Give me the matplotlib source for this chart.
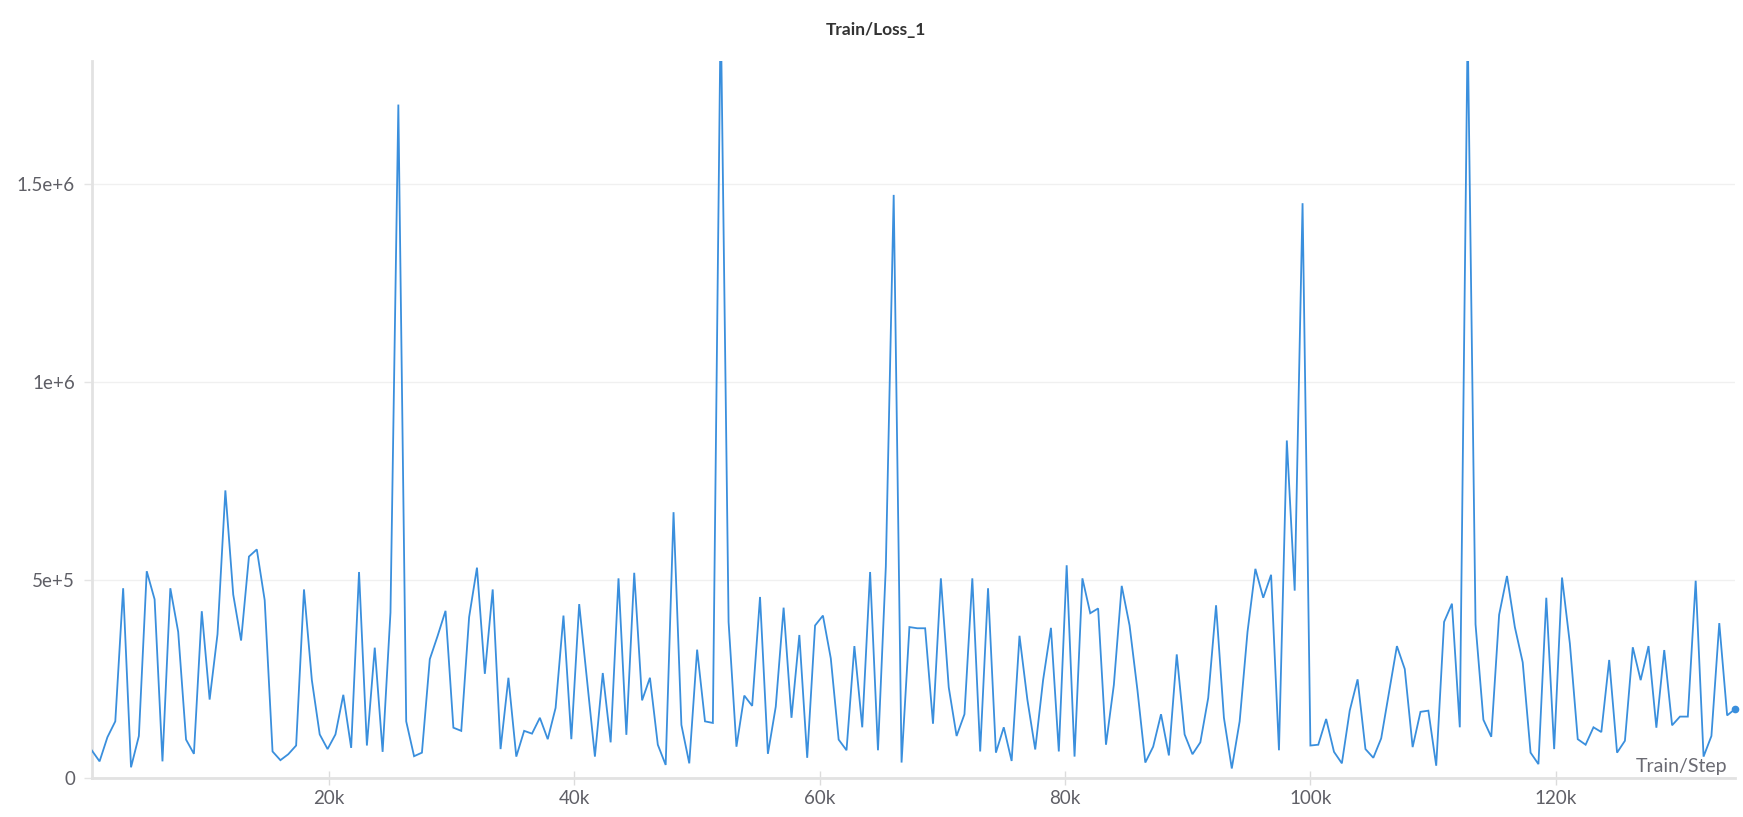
import numpy as np
import matplotlib
matplotlib.use("Agg")
import matplotlib.pyplot as plt

# ---- data (loss values in units of 1e5) ----
step_interval = 641
loss_e5 = [
    0.70, 0.42, 1.03, 1.43, 4.79, 0.27, 1.06, 5.22, 4.51, 0.42, 4.79, 3.69, 0.97, 0.61, 4.21, 1.98, 3.63, 7.26, 4.63, 3.47, 5.59, 5.77, 4.49, 0.67, 0.45, 0.60, 0.82,
    4.76, 2.47, 1.10, 0.73, 1.10, 2.10, 0.76, 5.20, 0.82, 3.29, 0.66, 4.18, 17.0, 1.43, 0.55, 0.64, 3.00, 3.59, 4.22, 1.27, 1.19, 4.06, 5.31, 2.63, 4.76, 0.73, 2.53,
    0.54, 1.19, 1.12, 1.52, 0.98, 1.77, 4.10, 0.98, 4.39, 2.47, 0.54, 2.65, 0.90, 5.04, 1.09, 5.18, 1.96, 2.53, 0.84, 0.33, 6.71, 1.34, 0.37, 3.24, 1.43, 1.39, 19.5,
    3.94, 0.79, 2.08, 1.82, 4.57, 0.61, 1.80, 4.30, 1.52, 3.61, 0.51, 3.85, 4.10, 3.02, 0.97, 0.70, 3.33, 1.28, 5.20, 0.70, 5.34, 14.72, 0.39, 3.81, 3.78, 3.78,
    1.37, 5.04, 2.29, 1.06, 1.61, 5.04, 0.67, 4.79, 0.64, 1.28, 0.43, 3.59, 1.98, 0.72, 2.47, 3.79, 0.67, 5.37, 0.54, 5.04, 4.16, 4.28, 0.84, 2.35, 4.85, 3.85, 2.22,
    0.39, 0.79, 1.61, 0.57, 3.12, 1.10, 0.60, 0.90, 2.02, 4.36, 1.52, 0.24, 1.43, 3.69, 5.28, 4.55, 5.13, 0.70, 8.52, 4.73, 14.51, 0.82, 0.84, 1.49, 0.66, 0.37, 1.70,
    2.49, 0.73, 0.51, 1.00, 2.16, 3.33, 2.75, 0.78, 1.67, 1.70, 0.31, 3.94, 4.40, 1.28, 19.0, 3.88, 1.47, 1.04, 4.12, 5.10, 3.81, 2.92, 0.64, 0.35, 4.55, 0.73,
    5.06, 3.39, 0.98, 0.84, 1.28, 1.16, 2.98, 0.64, 0.94, 3.30, 2.47, 3.33, 1.27, 3.23, 1.33, 1.55, 1.55, 4.98, 0.54, 1.06, 3.91, 1.58, 1.74,
]
x_ticks = [20000, 40000, 60000, 80000, 100000, 120000]
x_tick_labels = ["20k", "40k", "60k", "80k", "100k", "120k"]
y_ticks = [0, 500000, 1000000, 1500000]
y_tick_labels = ["0", "5e+5", "1e+6", "1.5e+6"]
title = "Train/Loss_1"
x_label = "Train/Step"

steps = np.arange(1, len(loss_e5) + 1) * step_interval
loss = np.array(loss_e5) * 1e5

plt.rcParams['font.family'] = ['Lato', 'DejaVu Sans']

W, H = 1743, 817
fig = plt.figure(figsize=(W / 100, H / 100), dpi=100)
left, right, top, bottom = 91.7, 1735, 61, 778
ax = fig.add_axes([left / W, 1 - bottom / H, (right - left) / W, (bottom - top) / H])

line_color = '#3a8fdd'
ax.plot(steps, loss, color=line_color, lw=1.3, solid_joinstyle='miter', zorder=3)
ax.plot(steps[-1], loss[-1], 'o', color=line_color, ms=4.5, zorder=4, clip_on=False)

ax.set_xlim(steps[0], steps[-1])
ax.set_ylim(0, 1.81e6)

ax.set_xticks(x_ticks)
ax.set_xticklabels(x_tick_labels)
ax.set_yticks(y_ticks)
ax.set_yticklabels(y_tick_labels)

tick_col = '#5f5f66'
ax.tick_params(axis='x', direction='inout', length=10, width=1, color='#dcdcdc',
               labelsize=13.5, labelcolor=tick_col, pad=4)
ax.tick_params(axis='y', direction='out', length=6, width=1, color='#e4e4e4',
               labelsize=13.5, labelcolor=tick_col, pad=6)

for s in ['top', 'right']:
    ax.spines[s].set_visible(False)
for s in ['left', 'bottom']:
    ax.spines[s].set_color('#e2e2e2')
    ax.spines[s].set_linewidth(2)

ax.grid(axis='y', color='#f0f0f0', lw=1, zorder=0)
ax.set_axisbelow(True)

fig.text(876 / W, 1 - 30 / H, title, ha='center', va='center', fontsize=12.5,
         fontweight='bold', color='#333333')

ax.text(0.9951, 0.009, x_label, transform=ax.transAxes, ha='right', va='baseline',
        fontsize=14, color='#6b6b73', zorder=5)

fig.savefig('out.png', dpi=100, facecolor='white')
